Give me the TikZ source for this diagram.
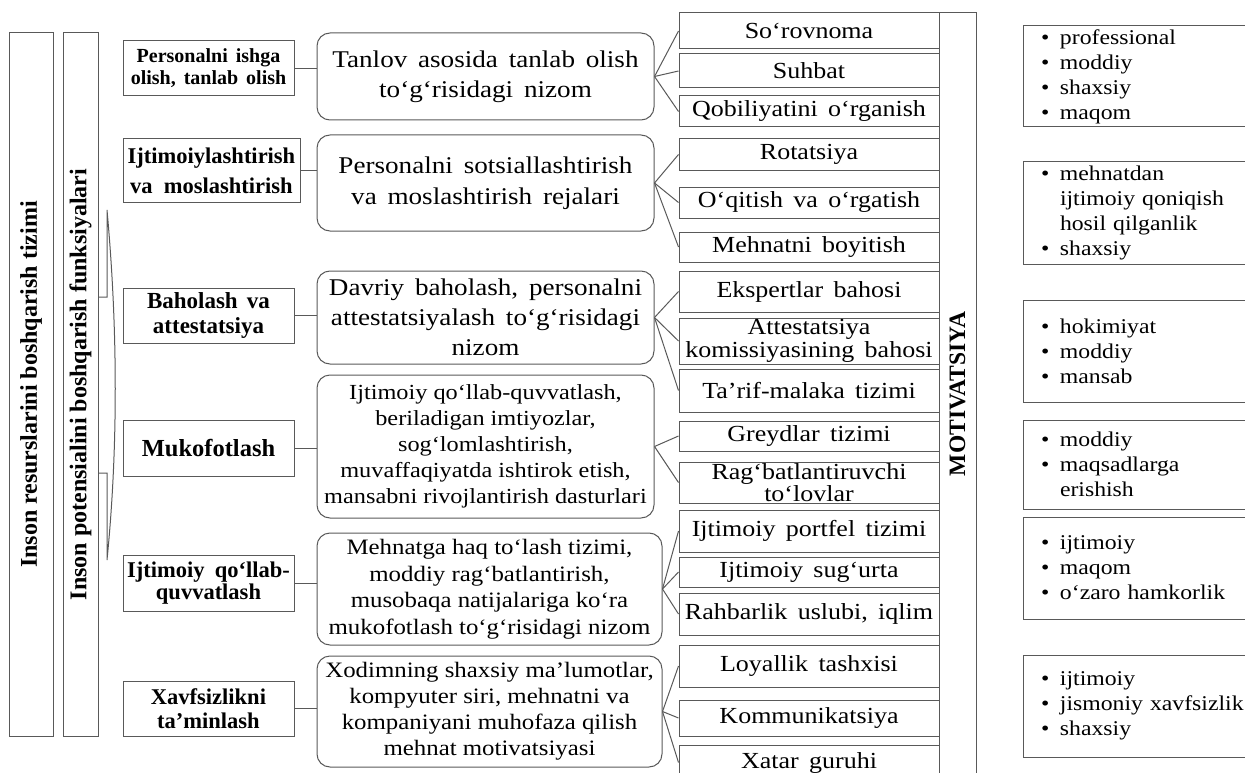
\documentclass[tikz,border=0pt]{standalone}
\usepackage{fontspec}
\setmainfont{Liberation Serif}[FakeStretch=1.13]
\newfontfamily\headfont{Liberation Serif}
\newcommand{\itm}[1]{\makebox[19pt][l]{\textbullet}#1}
\newcommand{\cnt}[1]{\hspace*{19pt}#1}
\newcommand{\wsp}[1]{\spaceskip=#1\relax}

\begin{document}
\begin{tikzpicture}[x=1pt,y=-1pt,
	lbox/.style={draw=black!65,line width=1pt,align=center,inner sep=1pt},
	mbox/.style={draw=black!65,line width=1pt,rounded corners=13pt,align=center,inner sep=1pt},
	rbox/.style={draw=black!65,line width=1pt,minimum width=260pt,align=center,inner sep=1pt,
		font=\fontsize{23}{25}\selectfont\wsp{.45em}},
	cbox/.style={draw=black!65,line width=1pt,minimum width=242pt,text width=206pt,inner xsep=18pt,
		align=left,font=\fontsize{21}{25}\selectfont\wsp{.4em}},
	vbox/.style={draw=black!65,line width=1pt,rotate=90,inner sep=0pt,
		font=\headfont\bfseries\fontsize{24}{26}\selectfont},
	link/.style={draw=black!65,line width=1pt}]
	\useasboundingbox (0,0) rectangle (1245,773);

	\node[vbox,minimum width=703pt,minimum height=44pt] (b1) at (31,384.5) {Inson resurslarini boshqarish tizimi};
	\node[vbox,minimum width=703pt,minimum height=35pt] (b2) at (80.5,384.5) {Inson potensialini boshqarish funksiyalari};

	\node[lbox,minimum width=171pt,minimum height=55pt,font=\headfont\bfseries\fontsize{20}{22}\selectfont\wsp{.4em}] (l1) at (208.5,68.5) {Personalni ishga\\olish, tanlab olish};
	\node[lbox,minimum width=177pt,minimum height=63pt,font=\headfont\bfseries\fontsize{22.5}{30}\selectfont\wsp{.5em}] (l2) at (211.5,170.5) {Ijtimoiylashtirish\\va moslashtirish};
	\node[lbox,minimum width=171pt,minimum height=55pt,font=\headfont\bfseries\fontsize{23}{25}\selectfont\wsp{.4em}] (l3) at (208.5,315.5) {Baholash va\\attestatsiya};
	\node[lbox,minimum width=171pt,minimum height=56pt,font=\headfont\bfseries\fontsize{24.5}{26}\selectfont] (l4) at (208.5,448) {Mukofotlash};
	\node[lbox,minimum width=171pt,minimum height=56pt,font=\headfont\bfseries\fontsize{22.5}{22}\selectfont\wsp{.45em}] (l5) at (208.5,583) {Ijtimoiy qo‘llab-\\quvvatlash};
	\node[lbox,minimum width=171pt,minimum height=55pt,font=\headfont\bfseries\fontsize{22.5}{23.5}\selectfont] (l6) at (208.5,708.5) {Xavfsizlikni\\ta’minlash};

	\node[mbox,minimum width=337pt,minimum height=87pt,font=\fontsize{24}{30}\selectfont\wsp{.45em}] (m1) at (485.5,76.5) {Tanlov asosida tanlab olish\\to‘g‘risidagi nizom};
	\node[mbox,minimum width=337pt,minimum height=96pt,font=\fontsize{24}{31}\selectfont\wsp{.45em}] (m2) at (485.5,183) {Personalni sotsiallashtirish\\va moslashtirish rejalari};
	\node[mbox,minimum width=337pt,minimum height=93pt,font=\fontsize{24}{30}\selectfont\wsp{.45em}] (m3) at (485.5,317.5) {Davriy baholash, personalni\\attestatsiyalash to‘g‘risidagi\\nizom};
	\node[mbox,minimum width=337pt,minimum height=143pt,font=\fontsize{21.5}{26}\selectfont] (m4) at (485.5,446.5) {Ijtimoiy qo‘llab-quvvatlash,\\beriladigan imtiyozlar,\\sog‘lomlashtirish,\\muvaffaqiyatda ishtirok etish,\\mansabni rivojlantirish dasturlari};
	\node[mbox,minimum width=345pt,minimum height=112pt,font=\fontsize{22}{26.5}\selectfont] (m5) at (489.5,589) {Mehnatga haq to‘lash tizimi,\\moddiy rag‘batlantirish,\\musobaqa natijalariga ko‘ra\\mukofotlash to‘g‘risidagi nizom};
	\node[mbox,minimum width=345pt,minimum height=111pt,font=\fontsize{22}{26}\selectfont] (m6) at (489.5,711.5) {Xodimning shaxsiy ma’lumotlar,\\kompyuter siri, mehnatni va\\kompaniyani muhofaza qilish\\mehnat motivatsiyasi};

	\node[rbox,minimum height=36pt] (r1) at (809,31) {So‘rovnoma};
	\node[rbox,minimum height=34pt] (r2) at (809,71) {Suhbat};
	\node[rbox,minimum height=31pt] (r3) at (809,111.5) {Qobiliyatini o‘rganish};
	\node[rbox,minimum height=31pt] (r4) at (809,154.5) {Rotatsiya};
	\node[rbox,minimum height=31pt] (r5) at (809,202.5) {O‘qitish va o‘rgatish};
	\node[rbox,minimum height=30pt] (r6) at (809,247) {Mehnatni boyitish};
	\node[rbox,minimum height=41pt] (r7) at (809,291.5) {Ekspertlar bahosi};
	\node[rbox,minimum height=46pt,font=\fontsize{23}{23}\selectfont\wsp{.45em}] (r8) at (809,341) {Attestatsiya\\komissiyasining bahosi};
	\node[rbox,minimum height=43pt] (r9) at (809,390.5) {Ta’rif-malaka tizimi};
	\node[rbox,minimum height=30pt] (r10) at (809,436) {Greydlar tizimi};
	\node[rbox,minimum height=41pt,font=\fontsize{23}{19}\selectfont] (r11) at (809,482.5) {Rag‘batlantiruvchi\\to‘lovlar};
	\node[rbox,minimum height=42pt] (r12) at (809,531) {Ijtimoiy portfel tizimi};
	\node[rbox,minimum height=30pt] (r13) at (809,572) {Ijtimoiy sug‘urta};
	\node[rbox,minimum height=42pt] (r14) at (809,614) {Rahbarlik uslubi, iqlim};
	\node[rbox,minimum height=42pt] (r15) at (809,666) {Loyallik tashxisi};
	\node[rbox,minimum height=36pt] (r16) at (809,718) {Kommunikatsiya};
	\node[rbox,minimum height=35pt] (r17) at (809,762.5) {Xatar guruhi};

	\node[vbox,minimum width=762pt,minimum height=37pt,font=\headfont\bfseries\fontsize{23.5}{26}\selectfont] (mot) at (957.5,394) {MOTIVATSIYA};

	\node[cbox,minimum height=101pt] (c1) at (1144,76.5) {\itm{professional}\\\itm{moddiy}\\\itm{shaxsiy}\\\itm{maqom}};
	\node[cbox,minimum height=102pt] (c2) at (1144,213) {\itm{mehnatdan}\\\cnt{ijtimoiy qoniqish}\\\cnt{hosil qilganlik}\\\itm{shaxsiy}};
	\node[cbox,minimum height=102pt] (c3) at (1144,351) {\itm{hokimiyat}\\\itm{moddiy}\\\itm{mansab}};
	\node[cbox,minimum height=89pt] (c4) at (1144,464.5) {\itm{moddiy}\\\itm{maqsadlarga}\\\cnt{erishish}};
	\node[cbox,minimum height=102pt] (c5) at (1144,568) {\itm{ijtimoiy}\\\itm{maqom}\\\itm{o‘zaro hamkorlik}};
	\node[cbox,minimum height=102pt] (c6) at (1144,706) {\itm{ijtimoiy}\\\itm{jismoniy xavfsizlik}\\\itm{shaxsiy}};

	\coordinate (k1) at (107,210);
	\coordinate (kt) at (107,297);
	\coordinate (kb) at (107,473);
	\coordinate (k2) at (107,560);
	\draw[link] (b2.south |- kt) -- (kt) -- (k1) .. controls (118,330) and (118,450) .. (k2) -- (kb) -- (b2.south |- kb);

	\foreach \i in {1,...,6}
		\draw[link] (l\i.east) -- (l\i.east -| m\i.west);
	\foreach \m/\r in {m1/r1,m1/r2,m1/r3,m2/r4,m2/r5,m2/r6,m3/r7,m3/r8,m3/r9,m4/r10,m4/r11,m5/r12,m5/r13,m5/r14,m6/r15,m6/r16,m6/r17}
		\draw[link] (\m.east) -- (\r.west);
\end{tikzpicture}
\end{document}
